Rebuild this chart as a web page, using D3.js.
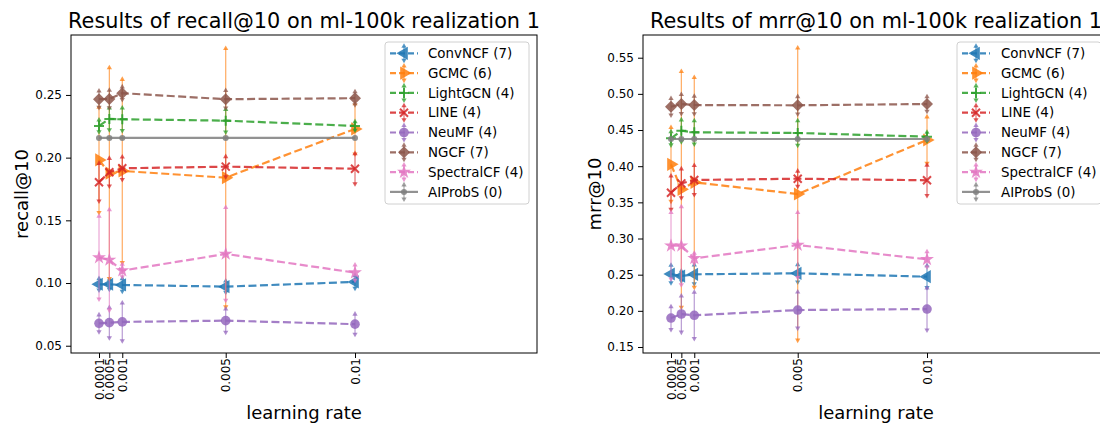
<!DOCTYPE html>
<html>
<head>
<meta charset="utf-8">
<script src="https://cdn.jsdelivr.net/npm/d3@7"></script>
<style>
body { margin: 0; background: #fff; }
text { font-family: "DejaVu Sans", sans-serif; fill: #000; }
</style>
</head>
<body>
<svg width="1100" height="427"></svg>
<script>
// x categories (learning rates)
var learningRates = [0.0001, 0.0005, 0.001, 0.005, 0.01];
var rateLabels = ["0.0001", "0.0005", "0.001", "0.005", "0.01"];

var modelNames = ["ConvNCF (7)", "GCMC (6)", "LightGCN (4)", "LINE (4)", "NeuMF (4)",
                  "NGCF (7)", "SpectralCF (4)", "AIProbS (0)"];
var modelColors = ["#1f77b4", "#ff7f0e", "#2ca02c", "#d62728", "#9467bd",
                   "#8c564b", "#e377c2", "#7f7f7f"];
var modelMarkers = ["left", "right", "plus", "x", "circle", "diamond", "star", "dot"];

// recall@10 means and std per model (rows follow modelNames)
var recallMean = [
    [0.0990, 0.0990, 0.0985, 0.0971, 0.1009],
    [0.1982, 0.1876, 0.1894, 0.1840, 0.2229],
    [0.2253, 0.2309, 0.2306, 0.2295, 0.2253],
    [0.1804, 0.1884, 0.1915, 0.1928, 0.1912],
    [0.0679, 0.0684, 0.0690, 0.0700, 0.0672],
    [0.2466, 0.2468, 0.2514, 0.2466, 0.2474],
    [0.1203, 0.1184, 0.1099, 0.1232, 0.1083],
    [0.2157, 0.2157, 0.2157, 0.2157, 0.2157]
];
var recallErr = [
    [0.0045, 0.0040, 0.0050, 0.0045, 0.0050],
    [0.0420, 0.0840, 0.0730, 0.1030, 0.0200],
    [0.0047, 0.0087, 0.0090, 0.0090, 0.0034],
    [0.0150, 0.0110, 0.0090, 0.0080, 0.0120],
    [0.0067, 0.0120, 0.0150, 0.0093, 0.0080],
    [0.0065, 0.0070, 0.0050, 0.0070, 0.0052],
    [0.0330, 0.0400, 0.0050, 0.0370, 0.0060],
    [0, 0, 0, 0, 0]
];

// mrr@10 means and std per model
var mrrMean = [
    [0.2509, 0.2481, 0.2505, 0.2519, 0.2472],
    [0.4026, 0.3680, 0.3777, 0.3615, 0.4362],
    [0.4385, 0.4490, 0.4468, 0.4459, 0.4408],
    [0.3633, 0.3763, 0.3809, 0.3827, 0.3805],
    [0.1900, 0.1956, 0.1938, 0.2011, 0.2025],
    [0.4822, 0.4860, 0.4846, 0.4842, 0.4860],
    [0.2900, 0.2900, 0.2726, 0.2910, 0.2712],
    [0.4376, 0.4376, 0.4376, 0.4376, 0.4376]
];
var mrrErr = [
    [0.0120, 0.0070, 0.0130, 0.0120, 0.0150],
    [0.0510, 0.1630, 0.1450, 0.2020, 0.0320],
    [0.0090, 0.0150, 0.0160, 0.0170, 0.0060],
    [0.0230, 0.0200, 0.0200, 0.0105, 0.0210],
    [0.0157, 0.0250, 0.0320, 0.0250, 0.0290],
    [0.0115, 0.0130, 0.0120, 0.0120, 0.0100],
    [0.0460, 0.0540, 0.0070, 0.0450, 0.0105],
    [0, 0, 0, 0, 0]
];

var recallTicks = [0.05, 0.10, 0.15, 0.20, 0.25];
var mrrTicks = [0.15, 0.20, 0.25, 0.30, 0.35, 0.40, 0.45, 0.50, 0.55];

var svg = d3.select("svg");

// marker shapes, roughly like matplotlib's
function addMarker(sel, kind, color) {
    if (kind == "left" || kind == "right") {
        sel.append("path").attr("d", d3.symbol(d3.symbolTriangle, 75)())
            .attr("transform", "rotate(" + (kind == "left" ? -90 : 90) + ")")
            .attr("fill", color);
    } else if (kind == "plus") {
        sel.append("path").attr("d", "M-5,0H5M0,-5V5")
            .attr("stroke", color).attr("stroke-width", 2).attr("fill", "none");
    } else if (kind == "x") {
        sel.append("path").attr("d", "M-4,-4L4,4M-4,4L4,-4")
            .attr("stroke", color).attr("stroke-width", 2).attr("fill", "none");
    } else if (kind == "circle") {
        sel.append("circle").attr("r", 4.8).attr("fill", color);
    } else if (kind == "diamond") {
        sel.append("path").attr("d", d3.symbol(d3.symbolSquare, 72)())
            .attr("transform", "rotate(45)").attr("fill", color);
    } else if (kind == "star") {
        sel.append("path").attr("d", d3.symbol(d3.symbolStar, 60)()).attr("fill", color);
    } else {
        sel.append("circle").attr("r", 3).attr("fill", color);
    }
}

var capUp = d3.symbol(d3.symbolTriangle, 12)();

function drawErrorBar(g, x, yTop, yBot, color) {
    g.append("line")
        .attr("x1", x).attr("x2", x).attr("y1", yTop).attr("y2", yBot)
        .attr("stroke", color).attr("stroke-width", 1.2).attr("opacity", 0.65);
    g.append("path").attr("d", capUp)
        .attr("transform", "translate(" + x + "," + yTop + ")")
        .attr("fill", color).attr("opacity", 0.75);
    g.append("path").attr("d", capUp)
        .attr("transform", "translate(" + x + "," + yBot + ") rotate(180)")
        .attr("fill", color).attr("opacity", 0.75);
}

function drawPanel(cfg) {
    var x = d3.scaleLinear().domain([-0.000983, 0.017038]).range([cfg.left, cfg.right]);
    var y = d3.scaleLinear().domain(cfg.yDomain).range([cfg.bottom, cfg.top]);
    var panel = svg.append("g");

    // series
    modelNames.forEach(function (name, m) {
        var color = modelColors[m];
        var g = panel.append("g");
        var pts = learningRates.map(function (lr, i) {
            return {x: x(lr), y: y(cfg.means[m][i]), e: cfg.errs[m][i], v: cfg.means[m][i]};
        });
        pts.forEach(function (p) {
            if (p.e > 0) drawErrorBar(g, p.x, y(p.v + p.e), y(p.v - p.e), color);
        });
        var line = d3.line().x(function (d) { return d.x; }).y(function (d) { return d.y; });
        g.append("path")
            .attr("d", line(pts))
            .attr("fill", "none")
            .attr("stroke", color)
            .attr("stroke-width", 2.2)
            .attr("opacity", 0.85)
            .attr("stroke-dasharray", m == 7 ? null : "8,3.5");
        pts.forEach(function (p) {
            var mg = g.append("g").attr("transform", "translate(" + p.x + "," + p.y + ")")
                .attr("opacity", 0.85);
            addMarker(mg, modelMarkers[m], color);
        });
    });

    // frame
    panel.append("rect")
        .attr("x", cfg.left).attr("y", cfg.top)
        .attr("width", cfg.right - cfg.left).attr("height", cfg.bottom - cfg.top)
        .attr("fill", "none").attr("stroke", "#000").attr("stroke-width", 1);

    // y axis
    var yAxis = panel.append("g")
        .attr("transform", "translate(" + cfg.left + ",0)")
        .call(d3.axisLeft(y).tickValues(cfg.ticks).tickFormat(d3.format(".2f"))
            .tickSizeOuter(0).tickSize(5).tickPadding(4));
    yAxis.select(".domain").remove();
    yAxis.selectAll("text").style("font-size", "12px").style("font-family", "DejaVu Sans");

    // x axis with rotated labels
    var xAxis = panel.append("g")
        .attr("transform", "translate(0," + cfg.bottom + ")")
        .call(d3.axisBottom(x).tickValues(learningRates)
            .tickFormat(function (d, i) { return rateLabels[i]; })
            .tickSizeOuter(0).tickSize(5));
    xAxis.select(".domain").remove();
    xAxis.selectAll("text")
        .style("font-size", "12px").style("font-family", "DejaVu Sans")
        .attr("text-anchor", "end")
        .attr("x", -5).attr("y", 0).attr("dy", "0.35em")
        .attr("transform", "rotate(-90)");

    // labels
    var cx = (cfg.left + cfg.right) / 2;
    panel.append("text")
        .attr("x", cx).attr("y", 28)
        .attr("text-anchor", "middle").style("font-size", "20.8px")
        .text(cfg.title);
    panel.append("text")
        .attr("x", cx).attr("y", 419)
        .attr("text-anchor", "middle").style("font-size", "18px")
        .text("learning rate");
    panel.append("text")
        .attr("transform", "translate(" + cfg.ylabelX + "," + (cfg.top + cfg.bottom) / 2 + ") rotate(-90)")
        .attr("text-anchor", "middle").style("font-size", "18px")
        .text(cfg.ylabel);

    // legend
    var lg = panel.append("g").attr("transform", "translate(" + cfg.legendX + ",42)");
    lg.append("rect")
        .attr("width", 144).attr("height", 162).attr("rx", 3)
        .attr("fill", "#fff").attr("fill-opacity", 0.8)
        .attr("stroke", "#d0d0d0").attr("stroke-width", 1);
    modelNames.forEach(function (name, m) {
        var color = modelColors[m];
        var row = lg.append("g").attr("transform", "translate(0," + (11.3 + m * 19.8) + ")");
        row.append("line")
            .attr("x1", 5).attr("x2", 33).attr("y1", 0).attr("y2", 0)
            .attr("stroke", color).attr("stroke-width", 2.2).attr("opacity", 0.85)
            .attr("stroke-dasharray", m == 7 ? null : "6,3");
        drawErrorBar(row, 19, -7, 7, color);
        var mg = row.append("g").attr("transform", "translate(19,0)").attr("opacity", 0.85);
        addMarker(mg, modelMarkers[m], color);
        row.append("text")
            .attr("x", cfg.legendTextX).attr("y", 0).attr("dy", "0.35em")
            .style("font-size", "13.4px")
            .text(name);
    });
}

drawPanel({
    left: 71, right: 537, top: 35, bottom: 353,
    yDomain: [0.0442, 0.2978], ticks: recallTicks,
    means: recallMean, errs: recallErr,
    title: "Results of recall@10 on ml-100k realization 1",
    ylabel: "recall@10", ylabelX: 28, legendX: 385, legendTextX: 43
});
drawPanel({
    left: 643, right: 1109, top: 35, bottom: 353,
    yDomain: [0.1417, 0.5814], ticks: mrrTicks,
    means: mrrMean, errs: mrrErr,
    title: "Results of mrr@10 on ml-100k realization 1",
    ylabel: "mrr@10", ylabelX: 601, legendX: 957, legendTextX: 44
});
</script>
</body>
</html>
